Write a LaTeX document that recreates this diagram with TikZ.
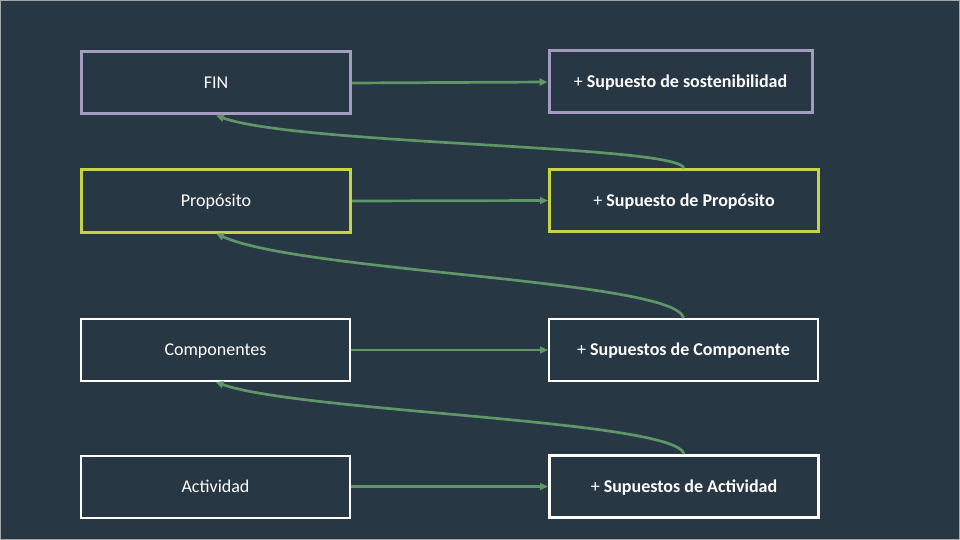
\documentclass[tikz,border=0pt]{standalone}
\usepackage{fontspec}
\setmainfont{Carlito}
\usetikzlibrary{arrows.meta}
\definecolor{bg}{HTML}{283744}
\definecolor{lav}{HTML}{A39CC0}
\definecolor{ylw}{HTML}{C6D344}
\definecolor{grn}{HTML}{5E9668}
\tikzset{
  box/.style={draw, minimum width=269pt, minimum height=62pt, inner sep=0pt, text height=11.5pt, text depth=0pt, text=white, font=\fontsize{18}{21}\selectfont},
  lavbox/.style={box, draw=lav, line width=3pt},
  ylwbox/.style={box, draw=ylw, line width=3pt},
  whtbox/.style={box, draw=white, line width=2pt},
  conn/.style={draw=grn, line width=2.7pt, -{Triangle[length=8pt,width=7pt]}},
  loop/.style={draw=grn, line width=2.7pt, -{Triangle[length=8pt,width=7pt]}},
}
\begin{document}
\begin{tikzpicture}[x=1pt,y=-1pt]
\useasboundingbox (0,0) rectangle (960,540);
\fill[bg] (0,0) rectangle (960,540);
\draw[gray!70, line width=1pt] (0.5,0.5) rectangle (959.5,539.5);

\node[lavbox] (fin) at (216,83) {FIN};
\node[lavbox, minimum width=263pt] (sfin) at (680.5,82) {+ \textbf{Supuesto de sostenibilidad}};
\node[ylwbox] (pro) at (216,201) {Propósito};
\node[ylwbox] (spro) at (684,200.5) {+ \textbf{Supuesto de Propósito}};
\node[whtbox] (com) at (215.5,350) {Componentes};
\node[whtbox] (scom) at (683.5,350) {+ \textbf{Supuestos de Componente}};
\node[whtbox] (act) at (215.5,486.5) {Actividad};
\node[whtbox, line width=3pt] (sact) at (684,486.5) {+ \textbf{Supuestos de Actividad}};

\draw[conn] (fin.east) -- (sfin.west);
\draw[conn] (pro.east) -- (spro.west);
\draw[conn] (com.east) -- (scom.west);
\draw[conn] (act.east) -- (sact.west);

\draw[loop] (spro.north) .. controls (675,145) and (300,145) .. (fin.south);
\draw[loop] (scom.north) .. controls (676,280) and (300,272) .. (pro.south);
\draw[loop] (sact.north) .. controls (676,420) and (300,412) .. (com.south);
\end{tikzpicture}
\end{document}
